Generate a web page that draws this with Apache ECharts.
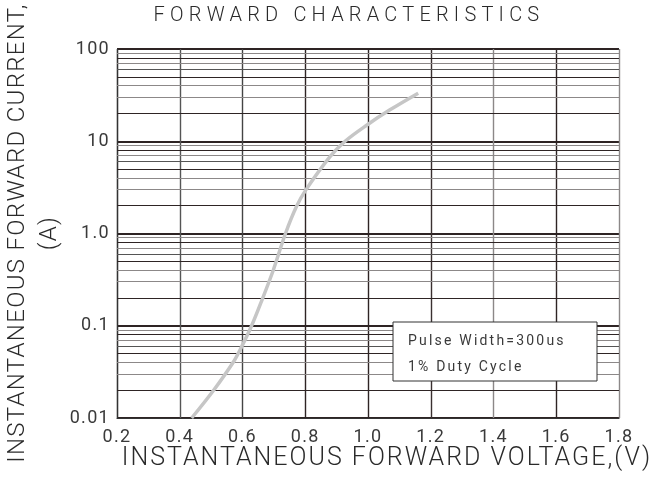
<!DOCTYPE html>
<html>
<head>
<meta charset="utf-8">
<script src="https://cdn.jsdelivr.net/npm/echarts@6/dist/echarts.min.js"></script>
<style>html,body{margin:0;padding:0;background:#fff}#c{width:655px;height:492px}</style>
</head>
<body>
<div id="c"></div>
<script>
// ---- data ----
const voltage = [0.438, 0.508, 0.572, 0.597, 0.629, 0.662, 0.698, 0.737, 0.772, 0.802, 0.879, 0.927, 0.998, 1.070, 1.160];
const current = [0.01, 0.02, 0.041, 0.059, 0.1, 0.19, 0.40, 1.0, 1.96, 2.97, 6.8, 10, 15.1, 21.9, 33.2];
const xTickLabels = ['0.2','0.4','0.6','0.8','1.0','1.2','1.4','1.6','1.8'];
const yTickValues = [0.01, 0.1, 1, 10, 100];
const yTickLabels = ['0.01','0.1','1.0','10','100'];
const titleText = 'FORWARD CHARACTERISTICS';
const xName = 'INSTANTANEOUS FORWARD VOLTAGE,(V)';
const yName = 'INSTANTANEOUS FORWARD CURRENT,';
const yUnit = '(A)';
const noteLines = ['Pulse Width=300us', '1% Duty Cycle'];

// letter spacing (px) by font size, to imitate the widely spaced lettering
const SPACING = {'20': 5.2, '14': 2.2, '18': 1.3, '25': 2, '24': 1.3};
(function(){
  const P = CanvasRenderingContext2D.prototype;
  const f = P.fillText;
  P.fillText = function(t, x, y, w){
    const m = /(\d+(?:\.\d+)?)px/.exec(this.font);
    const s = m && SPACING[m[1]];
    try { this.letterSpacing = s ? s + 'px' : '0px'; } catch(e) {}
    return w === undefined ? f.call(this, t, x, y) : f.call(this, t, x, y, w);
  };
})();

const FONT = "Roboto, 'DejaVu Sans', sans-serif";
const FW = 300;
const TXT = '#2a2a2a';
const DARK = '#2e2424';
const GRAY = '#8c8888';

// minor log grid lines (2..9 in each decade)
const minorMult = [2,3,4,5,6,7,8,9];
const minorStyle = {2: DARK, 3: GRAY, 4: GRAY, 5: DARK, 6: '#555', 7: GRAY, 8: DARK, 9: GRAY};
const minorLines = [];
[0.01, 0.1, 1, 10].forEach(d => {
  minorMult.forEach(m => {
    minorLines.push({yAxis: +(d*m).toPrecision(3), lineStyle: {color: minorStyle[m], width: 1, type: 'solid'}});
  });
});

const chart = echarts.init(document.getElementById('c'), null, {renderer: 'canvas'});
chart.setOption({
  animation: false,
  backgroundColor: '#fff',
  grid: {left: 117, right: 36, top: 49, bottom: 74},
  xAxis: {
    type: 'value', min: 0.2, max: 1.8, interval: 0.2,
    axisLine: {show: true, lineStyle: {color: '#333', width: 1.2}},
    axisTick: {show: false},
    axisLabel: {margin: 10, fontSize: 18, fontWeight: 400, fontFamily: FONT, color: '#3a3a3a',
      formatter: v => xTickLabels[Math.round((v - 0.2) / 0.2)]},
    splitLine: {show: true, lineStyle: {width: 1.4,
      color: ['#333', '#555', '#444', DARK, DARK, '#3a3030', GRAY, DARK, GRAY]}}
  },
  yAxis: {
    type: 'log', logBase: 10, min: 0.01, max: 100,
    axisLine: {show: true, lineStyle: {color: '#333', width: 1.2}},
    axisTick: {show: false},
    axisLabel: {margin: 7, fontSize: 18, fontWeight: 400, fontFamily: FONT, color: '#3a3a3a',
      formatter: v => { const i = yTickValues.findIndex(t => Math.abs(Math.log10(t) - Math.log10(v)) < 1e-6); return i >= 0 ? yTickLabels[i] : ''; }},
    splitLine: {show: true, lineStyle: {color: DARK, width: 1.8}}
  },
  series: [
    {
      type: 'line', data: [], z: 1, silent: true,
      markLine: {silent: true, symbol: ['none','none'], label: {show: false}, animation: false,
        emphasis: {disabled: true}, data: minorLines}
    },
    {
      type: 'line', z: 5, smooth: 0.35, symbol: 'none', silent: true,
      lineStyle: {color: '#c6c6c6', width: 3.5},
      data: voltage.map((v, i) => [v, current[i]])
    }
  ],
  graphic: [
    {type: 'text', x: 349, y: 16, z: 10,
      style: {text: titleText, fontSize: 20, fontWeight: FW, fontFamily: FONT, fill: TXT, align: 'center', verticalAlign: 'middle'}},
    {type: 'text', x: 387, y: 459, z: 10,
      style: {text: xName, fontSize: 25, fontWeight: FW, fontFamily: FONT, fill: TXT, align: 'center', verticalAlign: 'middle'}},
    {type: 'text', x: 34, y: 233, rotation: Math.PI / 2, z: 10,
      style: {text: yName + '\n' + yUnit, fontSize: 24, fontWeight: FW, lineHeight: 32, fontFamily: FONT, fill: TXT, align: 'center', verticalAlign: 'middle'}},
    {type: 'rect', z: 20, shape: {x: 393, y: 322, width: 204, height: 59},
      style: {fill: '#fff', stroke: '#333', lineWidth: 1}},
    {type: 'text', x: 408, y: 354, z: 21,
      style: {text: noteLines.join('\n'), fontSize: 14, fontWeight: 400, lineHeight: 26, fontFamily: FONT, fill: '#3a3a3a', align: 'left', verticalAlign: 'middle'}}
  ]
});
</script>
</body>
</html>
